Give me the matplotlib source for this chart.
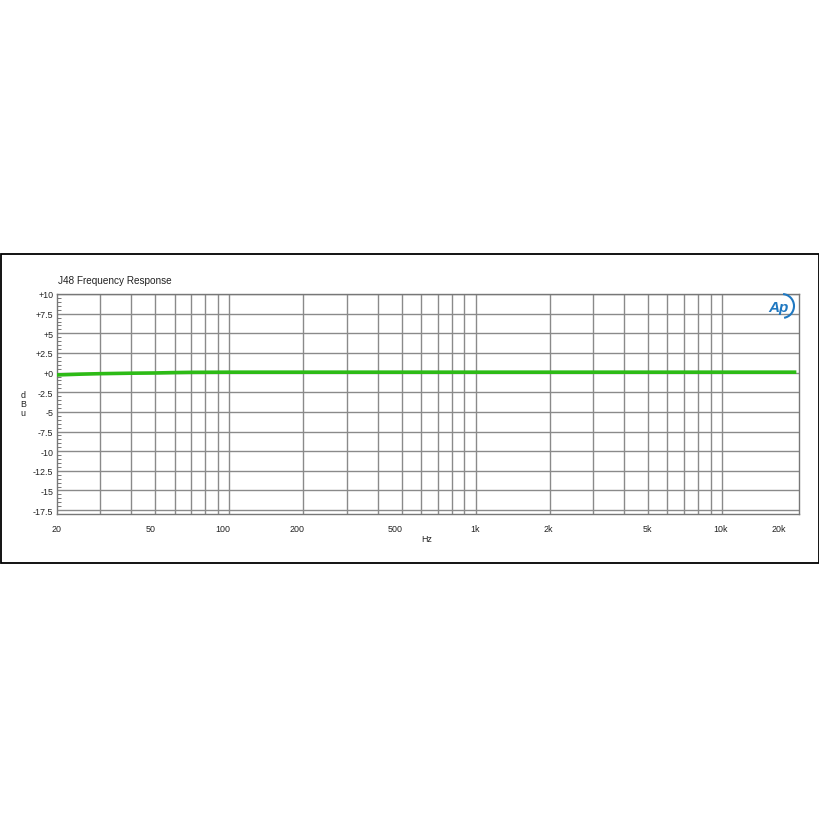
import matplotlib
matplotlib.use("Agg")
import matplotlib.pyplot as plt
from matplotlib.patches import Rectangle, Arc
import matplotlib.transforms as mtrans
import numpy as np

plt.rcParams['font.family'] = ['Liberation Sans', 'DejaVu Sans']

title = "J48 Frequency Response"
freq_hz = [20, 25, 30, 40, 50, 60, 70, 100, 200, 500, 1000, 2000, 5000, 10000, 20000]
level_dbu = [-0.3, -0.2, -0.14, -0.08, -0.05, 0.0, 0.03, 0.05, 0.05, 0.05, 0.05, 0.05, 0.05, 0.05, 0.05]
y_ticks = [10, 7.5, 5, 2.5, 0, -2.5, -5, -7.5, -10, -12.5, -15, -17.5]
y_labels = ["+10", "+7.5", "+5", "+2.5", "+0", "-2.5", "-5", "-7.5", "-10", "-12.5", "-15", "-17.5"]
x_ticks = [20, 50, 100, 200, 500, 1000, 2000, 5000, 10000, 20000]
x_labels = ["20", "50", "100", "200", "500", "1k", "2k", "5k", "10k", "20k"]
grid_freqs = sorted(set([f * m for m in (10, 100, 1000) for f in range(2, 11)]))

# small horizontal nudges (points) of the x tick labels, as in the reference
x_label_nudge = [0, -3, -4.5, -4.5, -4.5, -0.7, -1.5, -0.7, -1.5, -13]

fig = plt.figure(figsize=(8.2, 8.2), dpi=100)
fig.patch.set_facecolor("white")

# outer frame
fig.patches.append(Rectangle((1 / 820, 1 - 564 / 820), 818 / 820, 309 / 820,
                             transform=fig.transFigure, fill=False,
                             edgecolor="black", linewidth=1.3))

ax = fig.add_axes([57 / 820, 1 - 515 / 820, 742 / 820, 220 / 820])
ax.set_xscale("log")
ax.set_xlim(20, 20500)
ax.set_ylim(-18, 10)

for g in grid_freqs:
    if 20 < g <= 10000:
        ax.axvline(g, color="#8a8a8a", linewidth=1.0, zorder=1)
for yt in y_ticks:
    ax.axhline(yt, color="#8a8a8a", linewidth=1.0, zorder=1)

ax.plot(freq_hz, level_dbu, color="#2dbb16", linewidth=2.6, zorder=3,
        solid_capstyle="butt")

ax.set_yticks(y_ticks)
ax.set_yticklabels(y_labels)
ax.set_yticks(np.arange(-18, 10.01, 0.5), minor=True)
ax.set_xticks(x_ticks)
ax.set_xticklabels(x_labels)
ax.xaxis.set_minor_locator(matplotlib.ticker.NullLocator())
ax.tick_params(axis="y", which="major", length=0, pad=2.5, labelsize=6.4, labelcolor="#222222")
ax.tick_params(axis="y", which="minor", direction="in", length=3, width=0.7, color="#777777")
ax.tick_params(axis="x", which="major", length=0, pad=7, labelsize=6.4, labelcolor="#222222")
for s in ax.spines.values():
    s.set_color("#777777")
    s.set_linewidth(1.0)

for lbl, dx in zip(ax.get_xticklabels(), x_label_nudge):
    lbl.set_transform(lbl.get_transform() +
                      mtrans.ScaledTranslation(dx / 72, 0, fig.dpi_scale_trans))

fig.text(58 / 820, 1 - 281 / 820, title, fontsize=7.2, color="#222222",
         ha="left", va="center")
fig.text(427 / 820, 1 - 540 / 820, "Hz", fontsize=6.4, color="#222222",
         ha="center", va="center")
fig.text(23 / 820, 1 - 405 / 820, "d\nB\nu", fontsize=6.4, color="#222222",
         ha="center", va="center", linespacing=1.0)

# Ap logo
fig.text(779 / 820, 1 - 308 / 820, "Ap", fontsize=11, color="#1f78c1",
         fontstyle="italic", fontweight="bold", ha="center", va="center")
fig.patches.append(Arc((782 / 820, 1 - 307 / 820), 24 / 820, 24 / 820,
                       theta1=-80, theta2=85, transform=fig.transFigure,
                       color="#1f78c1", linewidth=1.5))

fig.savefig("out.png", dpi=100, facecolor="white")
